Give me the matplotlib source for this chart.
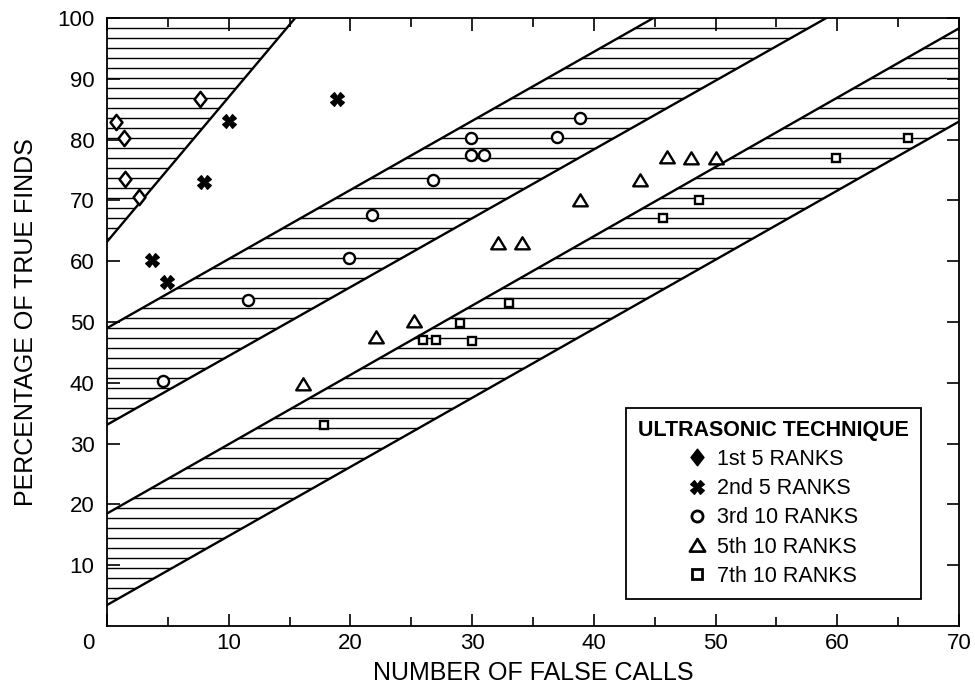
import numpy as np
import matplotlib
matplotlib.use('Agg')
import matplotlib.pyplot as plt
from matplotlib.lines import Line2D
from matplotlib.patches import Polygon
from matplotlib.path import Path
from matplotlib.transforms import ScaledTranslation

plt.rcParams['font.family'] = ['Liberation Sans', 'DejaVu Sans']

# points (false calls, % true finds)
first5_x = [0.7, 1.4, 1.5, 2.6, 7.6]
first5_y = [82.9, 80.3, 73.5, 70.6, 86.6]
second5_x = [3.7, 4.9, 8.0, 10.0, 18.9]
second5_y = [60.2, 56.6, 73.1, 83.1, 86.6]
third10_x = [4.6, 11.6, 19.9, 21.8, 26.8, 29.9, 29.9, 31.0, 37.0, 38.9]
third10_y = [40.3, 53.6, 60.6, 67.6, 73.4, 80.2, 77.4, 77.4, 80.5, 83.6]
fifth10_x = [16.1, 22.1, 25.2, 32.1, 34.1, 38.9, 43.8, 46.0, 48.0, 50.0]
fifth10_y = [39.8, 47.5, 50.2, 63.0, 63.0, 70.1, 73.4, 77.2, 76.9, 76.9]
seventh10_x = [17.8, 26.0, 27.0, 29.0, 30.0, 33.0, 45.7, 48.6, 59.9, 65.8]
seventh10_y = [33.1, 47.0, 47.0, 49.9, 46.9, 53.2, 67.1, 70.1, 77.0, 80.2]

labels = ['1st 5 RANKS', '2nd 5 RANKS', '3rd 10 RANKS', '5th 10 RANKS', '7th 10 RANKS']

# band boundary lines: y = intercept + slope * x
line_icpt = [63.2, 49.0, 33.1, 18.5, 3.45]
line_slope = [2.38, 1.136, 1.132, 1.14, 1.136]

XMAX, YMAX = 70, 100

fig = plt.figure(figsize=(9.75, 6.92), dpi=100)
ax = fig.add_axes([107 / 975, 66 / 692, 852 / 975, 608 / 692])
ax.set_xlim(0, XMAX)
ax.set_ylim(0, YMAX)

# hatched regions: above line 0, between lines 1-2, between lines 3-4
def yline(i, x):
    return line_icpt[i] + line_slope[i] * x

x_hit = (YMAX - line_icpt[0]) / line_slope[0]
regions = [
    [(0, YMAX), (0, line_icpt[0]), (x_hit, YMAX)],
    [(0, yline(1, 0)), (XMAX, yline(1, XMAX)), (XMAX, yline(2, XMAX)), (0, yline(2, 0))],
    [(0, yline(3, 0)), (XMAX, yline(3, XMAX)), (XMAX, yline(4, XMAX)), (0, yline(4, 0))],
]
hatch_y = np.arange(98.4, 0, -1.645)
for verts in regions:
    poly = Polygon(verts, closed=True, fill=False, lw=0, transform=ax.transData)
    ax.add_patch(poly)
    hl = ax.hlines(hatch_y, 0, XMAX, colors='black', lw=1.0, zorder=1)
    hl.set_clip_path(poly)

xs = np.array([0, XMAX])
for i in range(len(line_icpt)):
    ax.plot(xs, yline(i, xs), color='black', lw=1.7, zorder=2)

# markers
diamond = Path([(0, 1), (0.78, 0), (0, -1), (-0.78, 0), (0, 1)], closed=True)
triangle = Path([(-1, -0.8), (0, 0.85), (1, -0.8), (-1, -0.8)], closed=True)

kw = dict(ls='none', mec='black', mfc='white', zorder=4)
ax.plot(first5_x, first5_y, marker=diamond, ms=11, mew=1.8, **kw)
ax.plot(second5_x, second5_y, marker='X', ms=10, mew=0.8, ls='none', color='black', zorder=4)
ax.plot(third10_x, third10_y, marker='o', ms=8, mew=1.7, **kw)
ax.plot(fifth10_x, fifth10_y, marker=triangle, ms=10.5, mew=1.7, **kw)
ax.plot(seventh10_x, seventh10_y, marker='s', ms=6, mew=1.7, **kw)

# axes styling
for sp in ax.spines.values():
    sp.set_linewidth(1.3)
ax.set_xticks(range(0, 71, 10))
ax.set_xticks(range(5, 70, 10), minor=True)
ax.set_yticks(range(10, 101, 10))
ax.tick_params(which='both', direction='in', top=True, right=True, width=1.2, labelsize=16)
ax.tick_params(which='major', length=9)
ax.tick_params(which='minor', length=6.5)
ax.tick_params(axis='x', pad=5)
ax.tick_params(axis='y', pad=9)

ticks = ax.xaxis.get_major_ticks()
lab0 = ticks[0].label1
lab0.set_transform(lab0.get_transform() + ScaledTranslation(-0.19, 0, fig.dpi_scale_trans))

ax.set_xlabel('NUMBER OF FALSE CALLS', fontsize=18)
ax.set_ylabel('PERCENTAGE OF TRUE FINDS', fontsize=18)
ax.xaxis.set_label_coords(0.5, -0.058)
ax.yaxis.set_label_coords(-0.081, 0.5)

# legend
handles = [
    Line2D([], [], ls='none', marker=diamond, ms=12, mfc='black', mec='black'),
    Line2D([], [], ls='none', marker='X', ms=10, mew=0.8, color='black'),
    Line2D([], [], ls='none', marker='o', ms=8, mew=2, mfc='white', mec='black'),
    Line2D([], [], ls='none', marker=triangle, ms=11, mew=1.9, mfc='white', mec='black'),
    Line2D([], [], ls='none', marker='s', ms=7, mew=2, mfc='white', mec='black'),
]
leg = ax.legend(handles, labels, title='ULTRASONIC TECHNIQUE',
                loc='upper left', bbox_to_anchor=(626 / 975, 1 - 408 / 692),
                bbox_transform=fig.transFigure, borderaxespad=0,
                fontsize=15.5, title_fontproperties={'weight': 'bold', 'size': 15.5},
                frameon=True, fancybox=False, framealpha=1, edgecolor='black',
                borderpad=0.55, labelspacing=0.38, handlelength=0.8, handletextpad=0.5)
leg.get_frame().set_linewidth(1.3)
leg.set_zorder(5)

fig.savefig('out.png', dpi=100)
